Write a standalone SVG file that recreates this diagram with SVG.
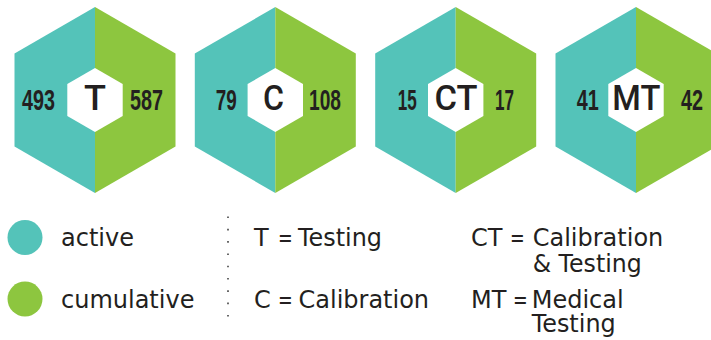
<svg xmlns="http://www.w3.org/2000/svg" width="711" height="340" viewBox="0 0 711 340">
<style>
.teal{fill:#54c3b9}
.green{fill:#8dc63f}
.inner{fill:#ffffff}
.num{font-family:"Liberation Sans",Arial,sans-serif;font-weight:bold;font-size:29px;fill:#231f20}
.code{font-family:Roboto,"Liberation Sans",Arial,sans-serif;font-weight:500;font-size:35px;fill:#231f20;text-anchor:middle}
.leg{font-family:"DejaVu Sans",Verdana,sans-serif;font-size:24px;fill:#231f20}
.sep{stroke:#444;stroke-width:1.6;stroke-dasharray:1.6 10.7;fill:none}
</style>
<defs>
<g id="hex">
<polygon class="teal" points="0,7 -80.5,53.5 -80.5,146.5 0,193"/>
<polygon class="green" points="0,7 80.5,53.5 80.5,146.5 0,193"/>
<polygon class="inner" points="0,68 27.7,84 27.7,116 0,132 -27.7,116 -27.7,84"/>
</g>
</defs>
<g id="node-T">
<use href="#hex" transform="translate(95,0)"/>
<text class="num" x="22" y="110" textLength="33" lengthAdjust="spacingAndGlyphs">493</text>
<text class="code" x="95" y="110" textLength="22" lengthAdjust="spacingAndGlyphs">T</text>
<text class="num" x="130" y="110" textLength="33" lengthAdjust="spacingAndGlyphs">587</text>
</g>
<g id="node-C">
<use href="#hex" transform="translate(275.3,0)"/>
<text class="num" x="215.7" y="110" textLength="21" lengthAdjust="spacingAndGlyphs">79</text>
<text class="code" x="273.5" y="110" textLength="21" lengthAdjust="spacingAndGlyphs">C</text>
<text class="num" x="309" y="110" textLength="32" lengthAdjust="spacingAndGlyphs">108</text>
</g>
<g id="node-CT">
<use href="#hex" transform="translate(455.7,0)"/>
<text class="num" x="397.7" y="110" textLength="19" lengthAdjust="spacingAndGlyphs">15</text>
<text class="code" x="456" y="110" textLength="43" lengthAdjust="spacingAndGlyphs">CT</text>
<text class="num" x="495" y="110" textLength="19" lengthAdjust="spacingAndGlyphs">17</text>
</g>
<g id="node-MT">
<use href="#hex" transform="translate(636,0)"/>
<text class="num" x="576.7" y="110" textLength="22" lengthAdjust="spacingAndGlyphs">41</text>
<text class="code" x="636.3" y="110" textLength="48" lengthAdjust="spacingAndGlyphs">MT</text>
<text class="num" x="681" y="110" textLength="22" lengthAdjust="spacingAndGlyphs">42</text>
</g>
<g id="legend">
<circle class="teal" cx="25" cy="237.5" r="17.5"/>
<text class="leg" x="61" y="246">active</text>
<circle class="green" cx="25" cy="299" r="17.5"/>
<text class="leg" x="61" y="307.5">cumulative</text>
<line class="sep" x1="228" y1="216.5" x2="228" y2="318"/>
<text class="leg" x="254" y="246">T</text>
<text class="leg" x="278" y="246" textLength="14.7" lengthAdjust="spacingAndGlyphs">=</text>
<text class="leg" x="298" y="246" textLength="84" lengthAdjust="spacingAndGlyphs">Testing</text>
<text class="leg" x="254" y="307.5">C</text>
<text class="leg" x="278" y="307.5" textLength="14.7" lengthAdjust="spacingAndGlyphs">=</text>
<text class="leg" x="298.5" y="307.5">Calibration</text>
<text class="leg" x="471" y="246">CT</text>
<text class="leg" x="510" y="246" textLength="14.7" lengthAdjust="spacingAndGlyphs">=</text>
<text class="leg" x="532.7" y="246">Calibration</text>
<text class="leg" x="532.7" y="272" textLength="109" lengthAdjust="spacingAndGlyphs">&amp; Testing</text>
<text class="leg" x="471" y="307.5">MT</text>
<text class="leg" x="513" y="307.5" textLength="14.7" lengthAdjust="spacingAndGlyphs">=</text>
<text class="leg" x="531.7" y="307.5">Medical</text>
<text class="leg" x="531.7" y="332" textLength="84" lengthAdjust="spacingAndGlyphs">Testing</text>
</g>
<g id="connectors"/>
</svg>
